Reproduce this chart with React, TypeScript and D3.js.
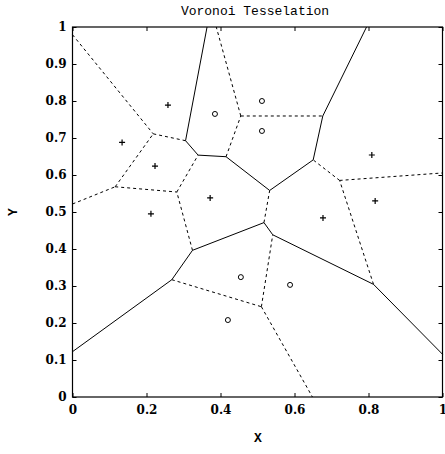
import { useEffect, useRef } from 'react';
import * as d3 from 'd3';

// class "+" sites
const plusX = [0.258, 0.134, 0.223, 0.212, 0.372, 0.677, 0.809, 0.818];
const plusY = [0.789, 0.688, 0.624, 0.495, 0.538, 0.484, 0.654, 0.530];
// class "o" sites
const circX = [0.385, 0.512, 0.512, 0.455, 0.588, 0.420];
const circY = [0.765, 0.800, 0.719, 0.324, 0.303, 0.208];

const xTicks = [0, 0.2, 0.4, 0.6, 0.8, 1];
const yTicks = [0, 0.1, 0.2, 0.3, 0.4, 0.5, 0.6, 0.7, 0.8, 0.9, 1];

const W = 445;
const H = 454;
const margin = { top: 27, right: 2.5, bottom: 57, left: 72.5 };

type Site = { x: number; y: number; cls: string };

export default function App() {
  const svgRef = useRef<SVGSVGElement>(null);

  useEffect(() => {
    if (!svgRef.current) return;
    const svg = d3.select(svgRef.current);
    svg.selectAll('*').remove();

    const x = d3.scaleLinear().domain([0, 1]).range([margin.left, W - margin.right]);
    const y = d3.scaleLinear().domain([0, 1]).range([H - margin.bottom, margin.top]);

    const sites: Site[] = [
      ...plusX.map((v, i) => ({ x: v, y: plusY[i], cls: '+' })),
      ...circX.map((v, i) => ({ x: v, y: circY[i], cls: 'o' })),
    ];

    const delaunay = d3.Delaunay.from(sites, (d) => d.x, (d) => d.y);
    const vor = delaunay.voronoi([0, 0, 1, 1]);
    const eps = 1e-6;
    const onBorder = (a: number[], b: number[]) =>
      (Math.abs(a[0]) < eps && Math.abs(b[0]) < eps) ||
      (Math.abs(a[0] - 1) < eps && Math.abs(b[0] - 1) < eps) ||
      (Math.abs(a[1]) < eps && Math.abs(b[1]) < eps) ||
      (Math.abs(a[1] - 1) < eps && Math.abs(b[1] - 1) < eps);

    // shared edges between neighbouring cells
    const edges: { a: number[]; b: number[]; same: boolean }[] = [];
    sites.forEach((s, i) => {
      const poly = vor.cellPolygon(i);
      if (!poly) return;
      for (let k = 0; k < poly.length - 1; k++) {
        const a = poly[k];
        const b = poly[k + 1];
        if (onBorder(a, b)) continue;
        const mx = (a[0] + b[0]) / 2;
        const my = (a[1] + b[1]) / 2;
        const di = Math.hypot(mx - s.x, my - s.y);
        let best = -1;
        let bestDiff = Infinity;
        for (const j of delaunay.neighbors(i)) {
          const dj = Math.hypot(mx - sites[j].x, my - sites[j].y);
          if (Math.abs(dj - di) < bestDiff) { bestDiff = Math.abs(dj - di); best = j; }
        }
        if (best > i) edges.push({ a, b, same: sites[best].cls === s.cls });
      }
    });

    const g = svg.append('g');

    g.selectAll('line.edge')
      .data(edges)
      .join('line')
      .attr('class', 'edge')
      .attr('x1', (d) => x(d.a[0]))
      .attr('y1', (d) => y(d.a[1]))
      .attr('x2', (d) => x(d.b[0]))
      .attr('y2', (d) => y(d.b[1]))
      .attr('stroke', '#000')
      .attr('stroke-width', 1)
      .attr('stroke-dasharray', (d) => (d.same ? '3,3' : null));

    // markers
    const pl = sites.filter((s) => s.cls === '+');
    g.selectAll('path.plus')
      .data(pl)
      .join('path')
      .attr('class', 'plus')
      .attr('d', (d) => `M${x(d.x) - 3},${y(d.y)}h6M${x(d.x)},${y(d.y) - 3}v6`)
      .attr('stroke', '#000')
      .attr('stroke-width', 1.2);

    const ci = sites.filter((s) => s.cls === 'o');
    g.selectAll('circle.o')
      .data(ci)
      .join('circle')
      .attr('class', 'o')
      .attr('cx', (d) => x(d.x))
      .attr('cy', (d) => y(d.y))
      .attr('r', 2.5)
      .attr('fill', 'none')
      .attr('stroke', '#000')
      .attr('stroke-width', 1);

    // axes with inward ticks on all four sides
    const fmt = d3.format('');
    const tickFont = (sel: any) =>
      sel.selectAll('text')
        .attr('font-family', '"DejaVu Serif", serif')
        .attr('font-weight', 'bold')
        .attr('font-size', 12)
        .attr('fill', '#000');

    const ax = (axis: any, tx: number, ty: number, labels: boolean) => {
      const a = svg.append('g').attr('transform', `translate(${tx},${ty})`).call(axis);
      a.select('.domain').remove();
      a.selectAll('line').attr('stroke', '#000');
      if (!labels) a.selectAll('text').remove();
      else tickFont(a);
      return a;
    };

    ax(d3.axisLeft(y).tickValues(yTicks).tickFormat(fmt).tickSizeInner(-4).tickPadding(6), margin.left, 0, true);
    ax(d3.axisRight(y).tickValues(yTicks).tickSizeInner(-4), W - margin.right, 0, false);
    ax(d3.axisBottom(x).tickValues(xTicks).tickFormat(fmt).tickSizeInner(-4).tickPadding(8), 0, H - margin.bottom, true);
    ax(d3.axisTop(x).tickValues(xTicks).tickSizeInner(-4), 0, margin.top, false);

    svg.append('rect')
      .attr('x', margin.left)
      .attr('y', margin.top)
      .attr('width', W - margin.left - margin.right)
      .attr('height', H - margin.top - margin.bottom)
      .attr('fill', 'none')
      .attr('stroke', '#000')
      .attr('stroke-width', 1.2);

    const mono = '"Liberation Mono", monospace';
    svg.append('text')
      .attr('x', 255)
      .attr('y', 15)
      .attr('text-anchor', 'middle')
      .attr('font-family', mono)
      .attr('font-size', 13)
      .text('Voronoi Tesselation');

    svg.append('text')
      .attr('x', 258)
      .attr('y', 442)
      .attr('text-anchor', 'middle')
      .attr('font-family', mono)
      .attr('font-weight', 'bold')
      .attr('font-size', 13)
      .text('X');

    svg.append('text')
      .attr('transform', 'translate(17,212) rotate(-90)')
      .attr('text-anchor', 'middle')
      .attr('font-family', mono)
      .attr('font-weight', 'bold')
      .attr('font-size', 13)
      .text('Y');
  }, []);

  return (
    <svg
      ref={svgRef}
      width={W}
      height={H}
      style={{ position: 'absolute', left: 0, top: 0, background: '#fff' }}
    />
  );
}
